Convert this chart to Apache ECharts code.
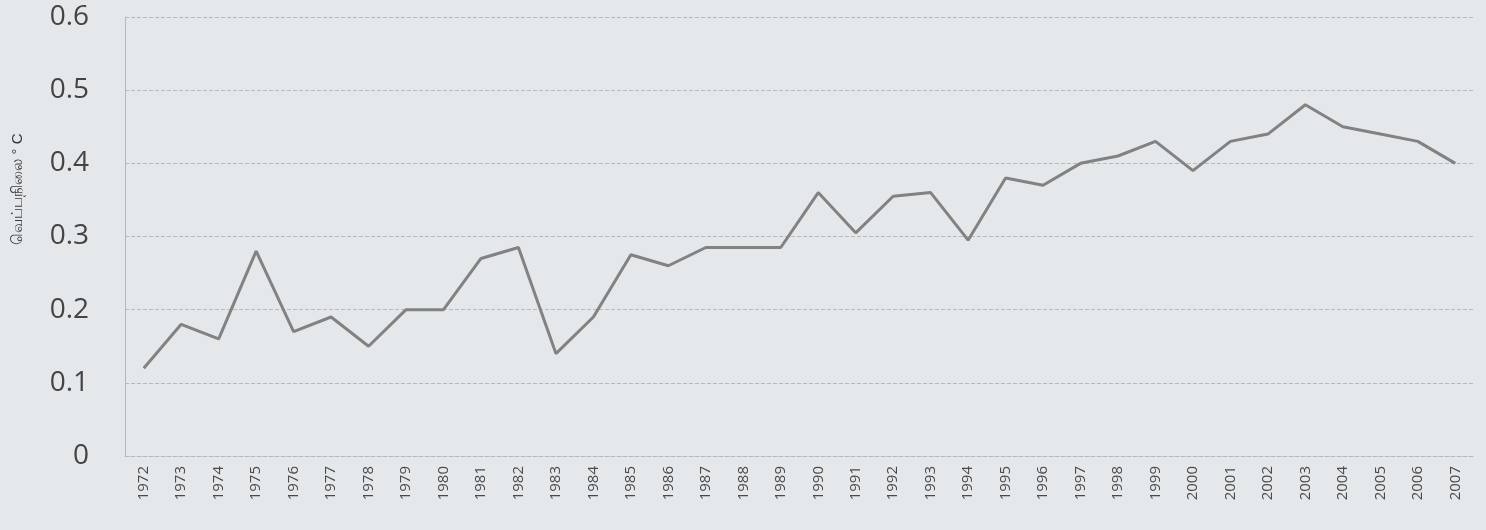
<!DOCTYPE html>
<html>
<head>
<meta charset="utf-8">
<script src="https://cdn.jsdelivr.net/npm/echarts@6/dist/echarts.min.js"></script>
<style>
  html, body { margin: 0; padding: 0; background: #e4e8eb; }
  #chart { width: 1486px; height: 530px; }
</style>
</head>
<body>
<div id="chart"></div>
<script>
const years = [
  "1972", "1973", "1974", "1975", "1976", "1977", "1978", "1979", "1980",
  "1981", "1982", "1983", "1984", "1985", "1986", "1987", "1988", "1989",
  "1990", "1991", "1992", "1993", "1994", "1995", "1996", "1997", "1998",
  "1999", "2000", "2001", "2002", "2003", "2004", "2005", "2006", "2007",
];
const tempValues = [
  0.12, 0.18, 0.16, 0.28, 0.17, 0.19, 0.15, 0.2, 0.2,
  0.27, 0.285, 0.14, 0.19, 0.275, 0.26, 0.285, 0.285, 0.285,
  0.36, 0.305, 0.355, 0.36, 0.295, 0.38, 0.37, 0.4, 0.41,
  0.43, 0.39, 0.43, 0.44, 0.48, 0.45, 0.44, 0.43, 0.4,
];
const yAxisTitle = "வெப்பநிலை ° C";

const chart = echarts.init(document.getElementById("chart"));
chart.setOption({
  backgroundColor: "#e4e8eb",
  animation: false,
  grid: { left: 125, right: 12, top: 17, bottom: 74 },
  xAxis: {
    type: "category",
    data: years,
    boundaryGap: true,
    axisLine: { lineStyle: { color: "#b5b8ba", type: "dashed", width: 1 } },
    axisTick: { show: false },
    axisLabel: {
      rotate: 90,
      color: "#4a4a4a",
      fontSize: 15,
      fontFamily: "Open Sans",
      margin: 10,
      interval: 0,
    },
  },
  yAxis: {
    type: "value",
    min: 0,
    max: 0.6,
    interval: 0.1,
    name: yAxisTitle,
    nameLocation: "middle",
    nameGap: 100,
    nameRotate: 90,
    nameTextStyle: {
      color: "#3a3a3a",
      fontSize: 15,
      padding: [0, 0, 0, 95],
    },
    axisLine: { show: true, lineStyle: { color: "#b5b8ba", width: 1 } },
    axisTick: { show: false },
    axisLabel: {
      color: "#444",
      fontSize: 28,
      fontFamily: "Open Sans",
      margin: 36,
      formatter: (v) => (v === 0 ? "0" : v.toFixed(1)),
    },
    splitLine: { lineStyle: { color: "#b8bbbd", type: "dashed", width: 1 } },
  },
  series: [
    {
      type: "line",
      data: tempValues,
      symbol: "none",
      lineStyle: { color: "#808284", width: 3 },
    },
  ],
});
</script>
</body>
</html>
